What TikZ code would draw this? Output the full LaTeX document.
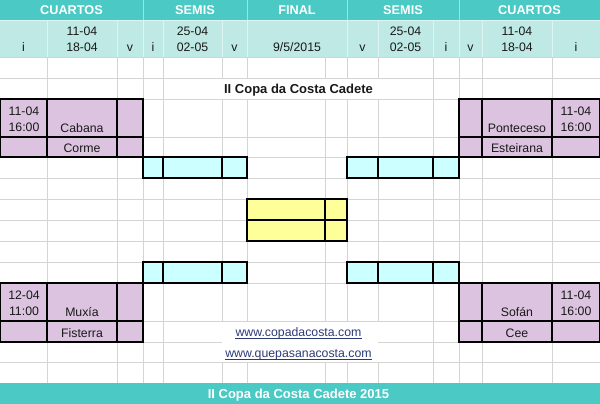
\documentclass[tikz,border=0pt]{standalone}
\usepackage{fontspec}
\setmainfont{Liberation Sans}
\definecolor{headteal}{RGB}{75,201,196}
\definecolor{headlight}{RGB}{190,233,228}
\definecolor{headsep}{RGB}{222,244,241}
\definecolor{lilac}{RGB}{220,195,224}
\definecolor{palecyan}{RGB}{204,255,255}
\definecolor{paleyellow}{RGB}{255,255,153}
\definecolor{gridgray}{RGB}{212,212,212}
\definecolor{linkblue}{RGB}{44,58,118}
\tikzset{
  txt/.style={font=\fontsize{12.3}{16}\selectfont, inner sep=0pt, anchor=base, text=black!90},
  twoline/.style={txt, align=center, anchor=south},
  head/.style={txt, font=\fontsize{12.7}{16}\selectfont\bfseries, text=white},
  title/.style={txt, font=\fontsize{13}{16}\selectfont\bfseries},
  gridline/.style={draw=gridgray, line width=0.6pt},
  box/.style={draw=black, line width=1.1pt},
}

\begin{document}
\begin{tikzpicture}[x=1pt,y=-1pt]
  \useasboundingbox (0,0) rectangle (600,404);
  % header bands
  \fill[headteal] (0,0) rectangle (600,20);
  \fill[headlight] (0,20) rectangle (600,57);
  \fill[headteal] (0,383) rectangle (600,404);
  \draw[headsep,line width=0.8pt] (0,20) -- (600,20);
  \foreach \x in {143,247,347,459}
    \draw[headsep!60!headteal,line width=0.8pt] (\x,0) -- (\x,20);
  \foreach \x in {47,117,143,163,222,247,347,378,433,459,482,552}
    \draw[headsep,line width=0.8pt] (\x,20) -- (\x,57);
  % grid
  \foreach \y in {57,78,99,137,157,178,199,220,241,262,283,321,362}
    \draw[gridline] (0,\y) -- (600,\y);
  \draw[gridline] (0,342) -- (222,342) (378,342) -- (600,342);
  \foreach \x in {47,117,143,163,222,247,325,347,378,433,459,482,552}
    \draw[gridline] (\x,57) -- (\x,78) (\x,99) -- (\x,321) (\x,362) -- (\x,383);
  \foreach \x in {47,117,143,163,433,459,482,552}
    \draw[gridline] (\x,78) -- (\x,99) (\x,321) -- (\x,362);
  % cuartos, left
  \filldraw[box,fill=lilac] (0,99) rectangle (143,157);
  \draw[box] (47,99) -- (47,157) (117,99) -- (117,157) (0,137) -- (143,137);
  \filldraw[box,fill=lilac] (0,283) rectangle (143,342);
  \draw[box] (47,283) -- (47,342) (117,283) -- (117,342) (0,321) -- (143,321);
  % cuartos, right
  \filldraw[box,fill=lilac] (459,99) rectangle (600,157);
  \draw[box] (482,99) -- (482,157) (552,99) -- (552,157) (459,137) -- (600,137);
  \filldraw[box,fill=lilac] (459,283) rectangle (600,342);
  \draw[box] (482,283) -- (482,342) (552,283) -- (552,342) (459,321) -- (600,321);
  % semis
  \foreach \y in {157,262} {
    \filldraw[box,fill=palecyan] (143,\y) rectangle (247,\y+21);
    \draw[box] (163,\y) -- (163,\y+21) (222,\y) -- (222,\y+21);
    \filldraw[box,fill=palecyan] (347,\y) rectangle (459,\y+21);
    \draw[box] (378,\y) -- (378,\y+21) (433,\y) -- (433,\y+21);
  }
  % final
  \filldraw[box,fill=paleyellow] (247,199) rectangle (347,241);
  \draw[box] (325,199) -- (325,241) (247,220) -- (347,220);

  % header texts
  \node[head] (cuartosL) at (71.5,15) {CUARTOS};
  \node[head] (semisL) at (195,15) {SEMIS};
  \node[head] (final) at (297,15) {FINAL};
  \node[head] (semisR) at (403,15) {SEMIS};
  \node[head] (cuartosR) at (529.5,15) {CUARTOS};
  \node[txt] (iqL) at (23.5,52) {i};
  \node[twoline] (dqL) at (82,52) {11-04\\18-04};
  \node[txt] (vqL) at (130,52) {v};
  \node[txt] (isL) at (153,52) {i};
  \node[twoline] (dsL) at (192.5,52) {25-04\\02-05};
  \node[txt] (vsL) at (234.5,52) {v};
  \node[txt] (dfinal) at (297,52) {9/5/2015};
  \node[txt] (vsR) at (362.5,52) {v};
  \node[twoline] (dsR) at (405.5,52) {25-04\\02-05};
  \node[txt] (isR) at (446,52) {i};
  \node[txt] (vqR) at (470.5,52) {v};
  \node[twoline] (dqR) at (517,52) {11-04\\18-04};
  \node[txt] (iqR) at (576,52) {i};
  % title
  \node[title] (copa) at (298.5,94) {II Copa da Costa Cadete};
  % teams
  \node[twoline] (h1) at (24,132) {11-04\\16:00};
  \node[txt] (cabana) at (82,132) {Cabana};
  \node[txt] (corme) at (82,152) {Corme};
  \node[txt] (ponteceso) at (517,132) {Ponteceso};
  \node[twoline] (h2) at (576,132) {11-04\\16:00};
  \node[txt] (esteirana) at (517,152) {Esteirana};
  \node[twoline] (h3) at (24,316) {12-04\\11:00};
  \node[txt] (muxia) at (82,316) {Muxía};
  \node[txt] (fisterra) at (82,337) {Fisterra};
  \node[txt] (sofan) at (517,316) {Sofán};
  \node[twoline] (h4) at (576,316) {11-04\\16:00};
  \node[txt] (cee) at (517,337) {Cee};
  % links
  \node[txt,text=linkblue] (web1) at (298.5,336) {www.copadacosta.com};
  \node[txt,text=linkblue] (web2) at (298.5,357) {www.quepasanacosta.com};
  \draw[linkblue,line width=0.8pt] ([yshift=-2pt]web1.base west) -- ([yshift=-2pt]web1.base east);
  \draw[linkblue,line width=0.8pt] ([yshift=-2pt]web2.base west) -- ([yshift=-2pt]web2.base east);
  % footer
  \node[title,text=white] (foot) at (298.5,398) {II Copa da Costa Cadete 2015};
\end{tikzpicture}
\end{document}
